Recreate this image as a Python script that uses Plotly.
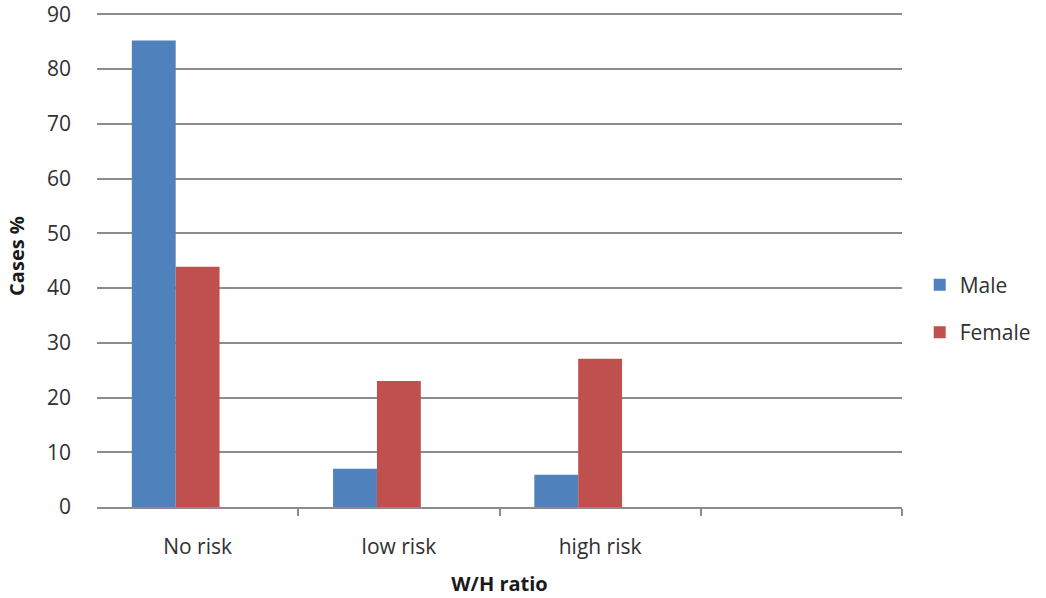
import plotly.graph_objects as go

# W/H ratio categories (the fourth slot is left empty on the axis)
categories = ["No risk", "low risk", "high risk", ""]
positions = [0, 1, 2, 3]

male = [85.2, 7.0, 5.9]
female = [43.9, 23.0, 27.1]

y_ticks = [0, 10, 20, 30, 40, 50, 60, 70, 80, 90]

BLUE = "#4F81BD"
RED = "#C0504D"
TEXT = "#303030"
GRID = "#8C8C8C"
FONT = "Open Sans"
SIZE = 21

# three slots per category (the third is unused), each slot ~0.218 of a category
slot = 0.218

fig = go.Figure()
fig.add_trace(go.Bar(
    x=positions[:3], y=male, name="Male", marker_color=BLUE,
    marker_line_width=0, width=slot, offset=-1.5 * slot,
    legendgroup="m",
))
fig.add_trace(go.Bar(
    x=positions[:3], y=female, name="Female", marker_color=RED,
    marker_line_width=0, width=slot, offset=-0.5 * slot,
    legendgroup="f",
))

fig.update_layout(
    width=1046, height=598,
    margin=dict(l=97, r=144, t=5, b=91, autoexpand=False),
    paper_bgcolor="white", plot_bgcolor="white",
    barmode="overlay",
    font=dict(family=FONT, size=SIZE, color=TEXT),
    showlegend=True,
    legend=dict(
        x=1.022, xanchor="left", y=0.395, yanchor="middle",
        font=dict(family=FONT, size=SIZE, color=TEXT),
        traceorder="grouped", tracegroupgap=17,
        itemwidth=30,
    ),
    xaxis=dict(
        range=[-0.5, 3.5],
        tickmode="array", tickvals=positions[:3], ticktext=categories[:3],
        ticks="", showgrid=False, zeroline=False,
        showline=True, linecolor=GRID, linewidth=2,
        ticklabelstandoff=20,
        minor=dict(tickmode="array", tickvals=[0.5, 1.5, 2.5, 3.5],
                   ticks="outside", ticklen=7, tickwidth=2, tickcolor=GRID,
                   showgrid=False),
        title=dict(text="<b>W/H ratio</b>", font=dict(family=FONT, size=SIZE - 1, color="#1a1a1a"),
                   standoff=18),
    ),
    yaxis=dict(
        range=[0, 91.7],
        tickmode="array", tickvals=y_ticks,
        showgrid=True, gridcolor=GRID, gridwidth=2,
        zeroline=False, showline=False,
        ticks="", ticklabelstandoff=25, ticklabeloverflow="allow",
        title=dict(text="<b>Cases %</b>", font=dict(family=FONT, size=SIZE - 1, color="#1a1a1a"),
                   standoff=16),
    ),
)

fig.write_html("out.html")
